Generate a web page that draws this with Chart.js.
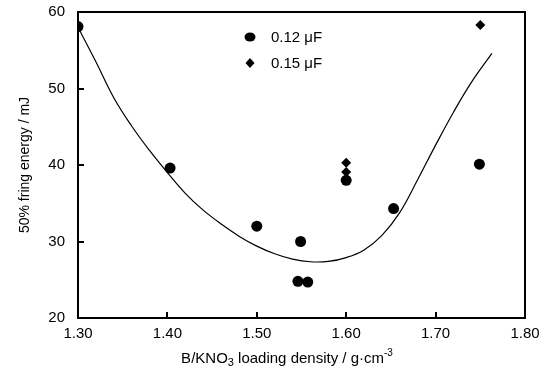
<!DOCTYPE html>
<html>
<head>
<meta charset="utf-8">
<script src="https://cdn.jsdelivr.net/npm/chart.js@4/dist/chart.umd.min.js"></script>
<style>
  body { margin: 0; background: #fff; }
  #wrap { width: 546px; height: 374px; position: relative; }
</style>
</head>
<body>
<div id="wrap"><canvas id="fireChart"></canvas></div>
<script>
// measured points, 0.12 uF
const densityA = [1.30, 1.403, 1.50, 1.549, 1.546, 1.557, 1.60, 1.653, 1.749];
const energyA = [58.1, 39.6, 32.0, 30.0, 24.8, 24.7, 38.0, 34.3, 40.1];
// measured points, 0.15 uF
const densityB = [1.60, 1.60, 1.750];
const energyB = [40.3, 39.1, 58.3];
// fitted curve
const fitX = [1.30, 1.32, 1.34, 1.36, 1.38, 1.40, 1.42, 1.44, 1.46, 1.48, 1.50, 1.52, 1.54, 1.56, 1.58, 1.60, 1.62, 1.64, 1.66, 1.68, 1.70, 1.72, 1.74, 1.763];
const fitY = [58.0, 53.5, 48.8, 45.1, 41.9, 39.0, 36.3, 34.1, 32.3, 30.7, 29.4, 28.4, 27.7, 27.35, 27.4, 27.9, 28.9, 30.8, 33.8, 38.1, 42.6, 46.9, 50.8, 54.6];
const xTicks = [1.30, 1.40, 1.50, 1.60, 1.70, 1.80];
const yTicks = [20, 30, 40, 50, 60];
const seriesNames = ['0.12 \u03bcF', '0.15 \u03bcF'];

const toPts = (xs, ys) => xs.map((x, i) => ({ x: x, y: ys[i] }));
const FONT = '"Liberation Sans", Arial, sans-serif';

// box, inward ticks, legend and axis titles
const framePlugin = {
    id: 'frame',
    afterDraw(chart) {
        const ctx = chart.ctx;
        const a = chart.chartArea;
        const xs = chart.scales.x, ys = chart.scales.y;
        ctx.save();
        ctx.strokeStyle = '#000';
        ctx.lineWidth = 2;
        ctx.strokeRect(a.left, a.top, a.right - a.left, a.bottom - a.top);
        ctx.beginPath();
        xTicks.slice(1, -1).forEach(v => {
            const px = Math.round(xs.getPixelForValue(v));
            ctx.moveTo(px, a.bottom);
            ctx.lineTo(px, a.bottom - 6);
        });
        yTicks.slice(1, -1).forEach(v => {
            const py = Math.round(ys.getPixelForValue(v));
            ctx.moveTo(a.left, py);
            ctx.lineTo(a.left + 6, py);
        });
        ctx.stroke();

        // legend
        ctx.fillStyle = '#000';
        ctx.beginPath();
        ctx.ellipse(250, 37, 5.5, 4.5, 0, 0, Math.PI * 2);
        ctx.fill();
        ctx.beginPath();
        ctx.moveTo(250, 58); ctx.lineTo(254.5, 63); ctx.lineTo(250, 68); ctx.lineTo(245.5, 63);
        ctx.closePath();
        ctx.fill();
        ctx.font = '15px ' + FONT;
        ctx.textBaseline = 'middle';
        ctx.textAlign = 'left';
        ctx.fillText(seriesNames[0], 271, 38);
        ctx.fillText(seriesNames[1], 271, 64);

        // y title
        ctx.save();
        ctx.font = '14px ' + FONT;
        ctx.translate(25, 165);
        ctx.rotate(-Math.PI / 2);
        ctx.textAlign = 'center';
        ctx.fillText('50% fring energy / mJ', 0, 0);
        ctx.restore();

        // x title with sub/superscript
        const parts = [
            { t: 'B/KNO', s: 15, dy: 0 },
            { t: '3', s: 11, dy: 4 },
            { t: ' loading density / g\u00b7cm', s: 15, dy: 0 },
            { t: '-3', s: 10, dy: -6 }
        ];
        let total = 0;
        parts.forEach(p => { ctx.font = p.s + 'px ' + FONT; total += ctx.measureText(p.t).width; });
        let x = 287 - total / 2;
        ctx.textAlign = 'left';
        parts.forEach(p => {
            ctx.font = p.s + 'px ' + FONT;
            ctx.fillText(p.t, x, 359 + p.dy);
            x += ctx.measureText(p.t).width;
        });
        ctx.restore();
    }
};

new Chart(document.getElementById('fireChart'), {
    type: 'scatter',
    data: {
        datasets: [
            {
                label: seriesNames[0],
                data: toPts(densityA, energyA),
                pointStyle: 'circle',
                pointRadius: 5.5,
                backgroundColor: '#000',
                borderColor: '#000',
                borderWidth: 0
            },
            {
                label: seriesNames[1],
                data: toPts(densityB, energyB),
                pointStyle: 'rectRot',
                pointRadius: 5,
                backgroundColor: '#000',
                borderColor: '#000',
                borderWidth: 0
            },
            {
                label: 'fit',
                data: toPts(fitX, fitY),
                showLine: true,
                pointRadius: 0,
                borderColor: '#000',
                borderWidth: 1.2,
                tension: 0.4,
                fill: false
            }
        ]
    },
    options: {
        responsive: true,
        maintainAspectRatio: false,
        animation: false,
        layout: { autoPadding: false, padding: { top: 12, right: 21, left: 0, bottom: 0 } },
        plugins: {
            legend: { display: false },
            tooltip: { enabled: false }
        },
        scales: {
            x: {
                type: 'linear',
                min: 1.3,
                max: 1.8,
                afterBuildTicks: s => { s.ticks = xTicks.map(v => ({ value: v })); },
                afterFit: s => { s.height = 56; s.paddingLeft = 0; s.paddingRight = 0; },
                grid: { display: false, drawTicks: false },
                border: { display: false },
                ticks: {
                    padding: 7,
                    color: '#000',
                    font: { family: FONT, size: 15 },
                    callback: v => v.toFixed(2)
                }
            },
            y: {
                min: 20,
                max: 60,
                afterBuildTicks: s => { s.ticks = yTicks.map(v => ({ value: v })); },
                afterFit: s => { s.width = 78; s.paddingTop = 0; s.paddingBottom = 0; },
                grid: { display: false, drawTicks: false },
                border: { display: false },
                ticks: {
                    padding: 13,
                    color: '#000',
                    font: { family: FONT, size: 15 }
                }
            }
        }
    },
    plugins: [framePlugin]
});
</script>
</body>
</html>
